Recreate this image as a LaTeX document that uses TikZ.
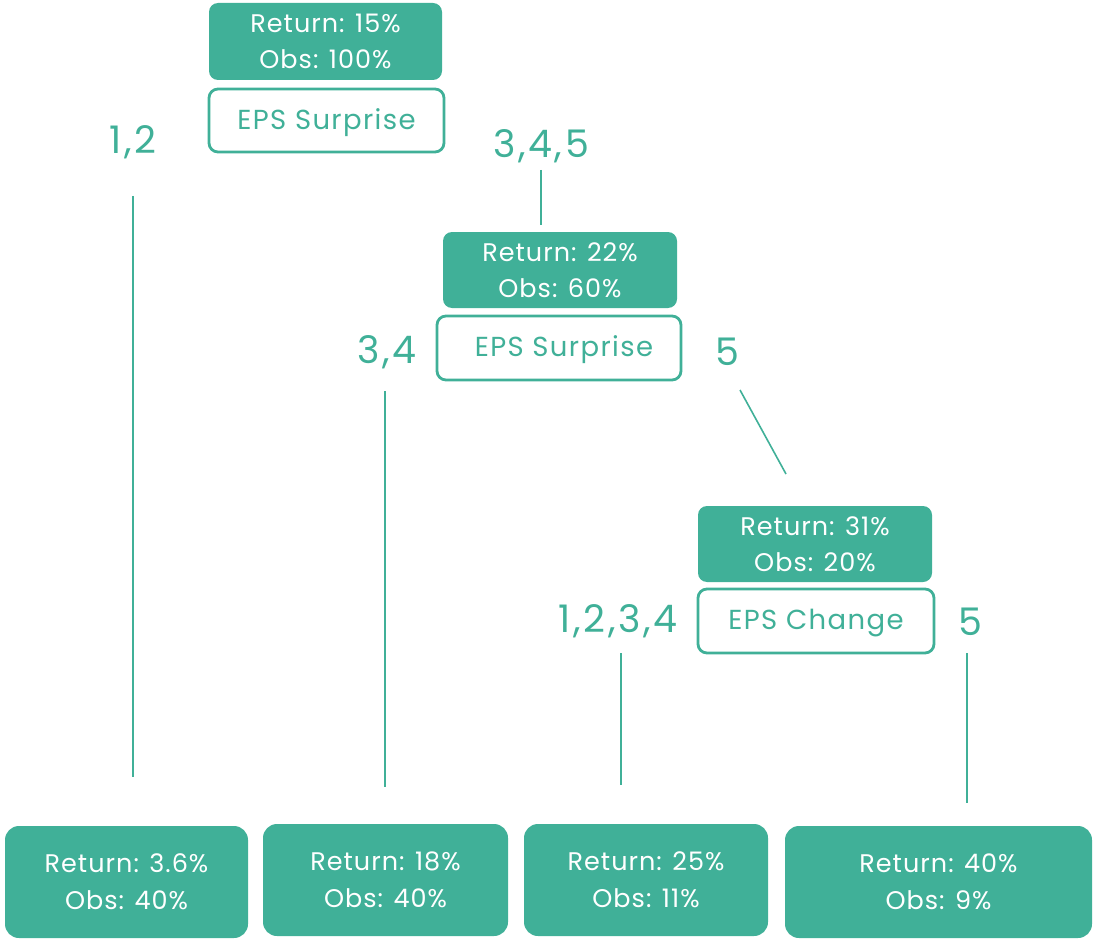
\documentclass[tikz,border=0pt]{standalone}
\usepackage{fontspec}
\setmainfont{Poppins}
\newfontfamily\statfont{Poppins}[LetterSpace=4]
\newfontfamily\splitfont{Poppins}[LetterSpace=5]
\newfontfamily\branchfont{Poppins}[LetterSpace=7]
\definecolor{teal}{HTML}{40B098}
\begin{document}
\begin{tikzpicture}[x=1pt,y=-1pt,
  stat/.style={fill=teal,draw=none,rounded corners=9pt,text=white,align=center,
    font=\statfont\fontsize{25.5}{36}\selectfont,inner sep=0pt},
  split/.style={draw=teal,line width=2.8pt,fill=white,rounded corners=9pt,text=teal,
    font=\splitfont\fontsize{27.5}{30}\selectfont,inner sep=0pt,text depth=3pt},
  leaf/.style={fill=teal,draw=none,rounded corners=14pt,text=white,align=center,
    font=\statfont\fontsize{25.5}{37}\selectfont,inner sep=0pt},
  branch/.style={text=teal,font=\branchfont\fontsize{38}{40}\selectfont,inner sep=0pt},
  link/.style={draw=teal,line width=1.6pt}]
\useasboundingbox (0,0) rectangle (1093,939);

% root split
\node[stat,minimum width=233pt,minimum height=77pt] (s1) at (325.5,41.5) {Return: 15\%\\Obs: 100\%};
\node[split,minimum width=235pt,minimum height=63pt] (q1) at (326.5,120.5) {EPS Surprise};
\node[branch] (b12) at (133,142) {1,2};
\node[branch] (b345) at (541,146) {3,4,5};

% second split
\node[stat,minimum width=234pt,minimum height=76pt] (s2) at (560,270) {Return: 22\%\\Obs: 60\%};
\node[split,minimum width=244pt,minimum height=64pt] (q2) at (559,348) {\hspace*{10pt}EPS Surprise};
\node[branch] (b34) at (387,352) {3,4};
\node[branch] (b5a) at (727,352) {5};

% third split
\node[stat,minimum width=234pt,minimum height=76pt] (s3) at (815,544) {Return: 31\%\\Obs: 20\%};
\node[split,minimum width=236pt,minimum height=64pt] (q3) at (816,621) {EPS Change};
\node[branch] (b1234) at (618,621) {1,2,3,4};
\node[branch] (b5b) at (970,622) {5};

% leaves
\node[leaf,minimum width=243pt,minimum height=112pt] (l1) at (126.5,882) {Return: 3.6\%\\Obs: 40\%};
\node[leaf,minimum width=245pt,minimum height=112pt] (l2) at (385.5,880) {Return: 18\%\\Obs: 40\%};
\node[leaf,minimum width=244pt,minimum height=112pt] (l3) at (646,880) {Return: 25\%\\Obs: 11\%};
\node[leaf,minimum width=307pt,minimum height=112pt] (l4) at (938.5,882) {Return: 40\%\\Obs: 9\%};

% connector ends
\coordinate (e1a) at (133,196);  \coordinate (e1b) at (133,777);
\coordinate (e2a) at (541,170);  \coordinate (e2b) at (541,225);
\coordinate (e3a) at (385,391);  \coordinate (e3b) at (385,787);
\coordinate (e4a) at (740,390);  \coordinate (e4b) at (786,474);
\coordinate (e5a) at (621,653);  \coordinate (e5b) at (621,785);
\coordinate (e6a) at (967,653);  \coordinate (e6b) at (967,803);

\draw[link] (e1a) -- (e1b);
\draw[link] (e2a) -- (e2b);
\draw[link] (e3a) -- (e3b);
\draw[link] (e4a) -- (e4b);
\draw[link] (e5a) -- (e5b);
\draw[link] (e6a) -- (e6b);
\end{tikzpicture}
\end{document}
